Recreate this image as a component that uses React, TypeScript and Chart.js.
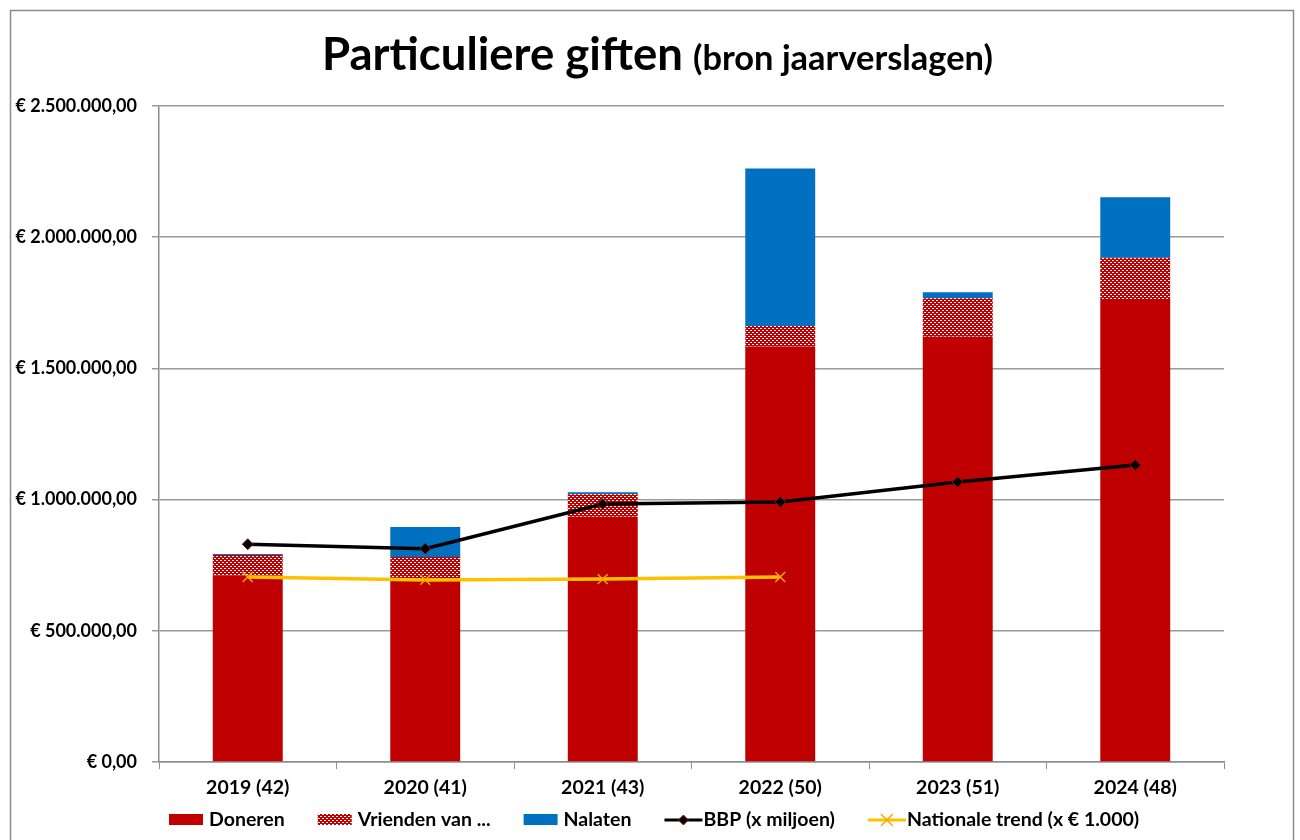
import React, { useEffect, useRef } from "react";
import { Chart, registerables } from "chart.js";

Chart.register(...registerables);

const categories = ["2019 (42)", "2020 (41)", "2021 (43)", "2022 (50)", "2023 (51)", "2024 (48)"];
const doneren = [712000, 686000, 935000, 1583000, 1621000, 1761000];
const vrienden = [77000, 95000, 85000, 79000, 146000, 161000];
const nalaten = [4000, 115000, 8000, 600000, 23000, 230000];
const bbp = [830000, 813000, 983000, 991000, 1067000, 1132000];
const nationaleTrend = [705000, 694000, 697000, 705000, null, null];

const seriesLabels = ["Doneren", "Vrienden van ...", "Nalaten", "BBP (x miljoen)", "Nationale trend (x € 1.000)"];
const titleMain = "Particuliere giften";
const titleSub = "(bron jaarverslagen)";

const RED = "#C00000";
const BLUE = "#0070C0";
const YELLOW = "#FFC000";
const FONT = "Lato";

function makePattern(): CanvasPattern | string {
  const c = document.createElement("canvas");
  c.width = 4;
  c.height = 4;
  const g = c.getContext("2d");
  if (!g) return RED;
  g.fillStyle = RED;
  g.fillRect(0, 0, 4, 4);
  g.fillStyle = "#ffffff";
  g.fillRect(0, 0, 2, 1);
  g.fillRect(2, 2, 2, 1);
  const p = g.createPattern(c, "repeat");
  return p || RED;
}

function fmtEuro(v: number): string {
  const s = Math.round(v).toString().replace(/\B(?=(\d{3})+(?!\d))/g, ".");
  return "€ " + s + ",00";
}

const framePlugin = {
  id: "frameTitleLegend",
  beforeDraw(chart: any) {
    const ctx = chart.ctx;
    ctx.save();
    ctx.fillStyle = "#ffffff";
    ctx.fillRect(0, 0, chart.width, chart.height);
    ctx.restore();
  },
  afterDraw(chart: any) {
    const ctx: CanvasRenderingContext2D = chart.ctx;
    ctx.save();
    // frame
    ctx.strokeStyle = "#8c8c8c";
    ctx.lineWidth = 1.5;
    ctx.strokeRect(10.5, 10.5, 1283, 860);

    // title
    ctx.fillStyle = "#000";
    ctx.textBaseline = "alphabetic";
    ctx.textAlign = "left";
    ctx.font = `bold 100px ${FONT}`;
    const m1 = ctx.measureText(titleMain).width;
    const s1 = (100 * 361) / m1;
    const m2 = ctx.measureText(titleSub).width;
    const s2 = (100 * 300) / m2;
    const gap = 10;
    const total = 361 + gap + 300;
    const x0 = 657.5 - total / 2;
    ctx.font = `bold ${s1}px ${FONT}`;
    ctx.fillText(titleMain, x0, 70);
    ctx.font = `bold ${s2}px ${FONT}`;
    ctx.fillText(titleSub, x0 + 361 + gap, 70);

    // legend
    const cy = 820;
    let x = 169;
    ctx.font = `bold 19.5px ${FONT}`;
    ctx.textBaseline = "middle";
    chart.data.datasets.forEach((ds: any) => {
      if (ds.type === "line") {
        ctx.strokeStyle = ds.borderColor;
        ctx.lineWidth = 3;
        ctx.beginPath();
        ctx.moveTo(x, cy);
        ctx.lineTo(x + 38, cy);
        ctx.stroke();
        const cx = x + 19;
        if (ds.pointStyle === "rectRot") {
          ctx.fillStyle = ds.pointBackgroundColor;
          ctx.strokeStyle = ds.pointBorderColor;
          ctx.lineWidth = 1;
          ctx.beginPath();
          ctx.moveTo(cx, cy - 5);
          ctx.lineTo(cx + 5, cy);
          ctx.lineTo(cx, cy + 5);
          ctx.lineTo(cx - 5, cy);
          ctx.closePath();
          ctx.fill();
          ctx.stroke();
        } else {
          ctx.strokeStyle = ds.pointBorderColor;
          ctx.lineWidth = 1.5;
          ctx.beginPath();
          ctx.moveTo(cx - 6, cy - 6);
          ctx.lineTo(cx + 6, cy + 6);
          ctx.moveTo(cx + 6, cy - 6);
          ctx.lineTo(cx - 6, cy + 6);
          ctx.stroke();
        }
        x += 39;
      } else {
        ctx.fillStyle = ds.backgroundColor;
        ctx.fillRect(x, cy - 6, 34, 11);
        x += 40;
      }
      ctx.fillStyle = "#000";
      ctx.fillText(ds.label, x, cy);
      x += ctx.measureText(ds.label).width + 33;
    });
    ctx.restore();
  },
};

export default function App() {
  const ref = useRef<HTMLCanvasElement | null>(null);

  useEffect(() => {
    if (!ref.current) return;
    const pattern = makePattern();
    const chart = new Chart(ref.current, {
      type: "bar",
      data: {
        labels: categories,
        datasets: [
          {
            type: "bar",
            label: seriesLabels[0],
            data: doneren,
            backgroundColor: RED,
            stack: "gifts",
            order: 2,
            categoryPercentage: 1,
            barPercentage: 0.394,
          },
          {
            type: "bar",
            label: seriesLabels[1],
            data: vrienden,
            backgroundColor: pattern as any,
            stack: "gifts",
            order: 2,
            categoryPercentage: 1,
            barPercentage: 0.394,
          },
          {
            type: "bar",
            label: seriesLabels[2],
            data: nalaten,
            backgroundColor: BLUE,
            stack: "gifts",
            order: 2,
            categoryPercentage: 1,
            barPercentage: 0.394,
          },
          {
            type: "line",
            label: seriesLabels[3],
            data: bbp,
            borderColor: "#000000",
            borderWidth: 3.5,
            pointStyle: "rectRot",
            pointRadius: 5.5,
            pointBackgroundColor: "#000000",
            pointBorderColor: "#8b1a1a",
            pointBorderWidth: 1,
            stack: "bbp",
            order: 0,
            tension: 0,
          } as any,
          {
            type: "line",
            label: seriesLabels[4],
            data: nationaleTrend,
            borderColor: YELLOW,
            borderWidth: 3.5,
            pointStyle: "crossRot",
            pointRadius: 7,
            pointBorderColor: "#F5A800",
            pointBorderWidth: 1.5,
            stack: "nat",
            order: 1,
            tension: 0,
            spanGaps: false,
          } as any,
        ],
      },
      options: {
        responsive: false,
        animation: false,
        devicePixelRatio: 1,
        layout: { padding: { top: 106, left: 0, right: 76, bottom: 38 } },
        plugins: {
          legend: { display: false },
          title: { display: false },
          tooltip: { enabled: false },
        },
        scales: {
          x: {
            stacked: true,
            grid: {
              offset: true,
              drawOnChartArea: false,
              drawTicks: true,
              tickLength: 7,
              color: "#8c8c8c",
            },
            border: { color: "#8c8c8c", width: 1.5 },
            ticks: {
              color: "#000",
              font: { family: FONT, weight: "bold", size: 19.5 },
              padding: 7,
              maxRotation: 0,
            },
            afterFit: (s: any) => {
              s.height = 40;
            },
          },
          y: {
            stacked: true,
            min: 0,
            max: 2500000,
            grid: {
              color: "#9a9a9a",
              lineWidth: 1.5,
              drawTicks: true,
              tickLength: 7,
            },
            border: { color: "#8c8c8c", width: 1.5 },
            ticks: {
              stepSize: 500000,
              color: "#000",
              font: { family: FONT, weight: "bold", size: 18 },
              padding: 15,
              callback: (v: any) => fmtEuro(Number(v)),
            },
            afterFit: (s: any) => {
              s.width = 159;
            },
          },
        },
      },
      plugins: [framePlugin],
    });
    return () => chart.destroy();
  }, []);

  return (
    <div style={{ position: "fixed", left: 0, top: 0, width: 1300, height: 840, background: "#fff" }}>
      <canvas ref={ref} width={1300} height={840} />
    </div>
  );
}
